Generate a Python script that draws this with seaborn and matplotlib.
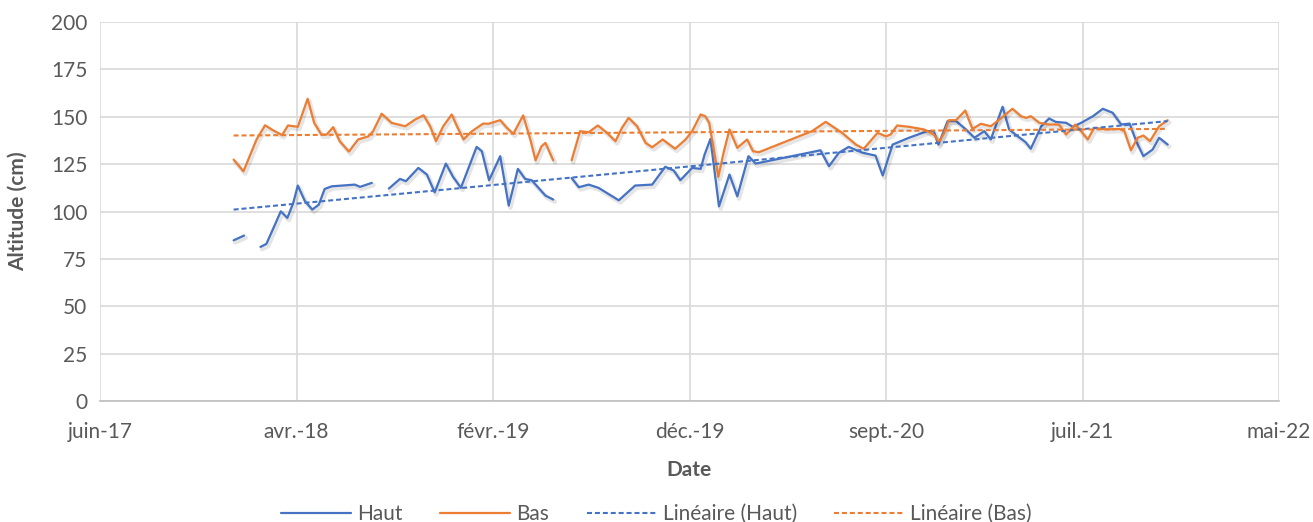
import numpy as np
import pandas as pd
import matplotlib
matplotlib.use("Agg")
import matplotlib.pyplot as plt
import matplotlib.patheffects as pe
from matplotlib.lines import Line2D
import seaborn as sns

# ---------------- data (dates as Excel serial numbers) ----------------
haut_dates = [
    [43104, 43120],
    [43145, 43154, 43166, 43176, 43186, 43195, 43202, 43213, 43224, 43234, 43243,
     43254, 43274, 43289, 43297, 43315],
    [43341, 43358, 43367, 43386, 43399, 43411, 43428, 43439, 43451, 43475, 43483,
     43494, 43511, 43524, 43538, 43549, 43559, 43580, 43592],
    [43620, 43631, 43646, 43661, 43692, 43717, 43743, 43763, 43776, 43786, 43804,
     43817, 43823, 43832, 43845, 43861, 43873, 43890, 43901, 44000, 44013, 44028,
     44043, 44064, 44084, 44095, 44110, 44135, 44163, 44173, 44180, 44194, 44207,
     44222, 44235, 44250, 44260, 44278, 44288, 44301, 44313, 44321, 44337, 44349,
     44359, 44375, 44385, 44398, 44416, 44431, 44446, 44459, 44472, 44482, 44493,
     44507, 44517, 44530],
]
haut_values = [
    [84.8, 87.3],
    [81.3, 82.9, 92.2, 100.1, 96.6, 104.5, 113.7, 105.4, 101.0, 103.6, 111.9,
     113.3, 113.8, 114.2, 113.0, 115.1],
    [112.1, 117.2, 116.0, 123.0, 119.5, 110.1, 125.3, 118.3, 112.5, 134.1, 131.8,
     116.5, 129.2, 103.1, 122.5, 117.2, 116.5, 108.4, 106.3],
    [117.7, 112.8, 114.2, 112.5, 105.9, 113.7, 114.2, 123.6, 121.6, 116.5, 123.0,
     122.5, 130.0, 138.3, 102.7, 119.5, 108.0, 129.2, 125.3, 132.3, 123.9, 131.0,
     134.1, 131.0, 129.5, 119.0, 135.3, 138.9, 142.4, 142.4, 135.3, 147.7, 147.7,
     143.3, 138.9, 142.4, 138.0, 155.3, 143.3, 139.7, 136.6, 133.1, 145.0, 149.1,
     147.3, 146.8, 144.7, 146.8, 150.3, 154.2, 152.1, 145.9, 146.4, 137.1, 129.2,
     132.7, 138.9, 135.3],
]

bas_dates = [
    [43104, 43119, 43139, 43152, 43164, 43178, 43187, 43202, 43217, 43227, 43238,
     43246, 43256, 43266, 43280, 43294, 43310, 43317, 43330, 43345, 43366, 43381,
     43394, 43404, 43413, 43424, 43437, 43445, 43455, 43468, 43485, 43493, 43511,
     43521, 43531, 43546, 43557, 43565, 43574, 43580, 43592],
    [43620, 43633, 43646, 43660, 43674, 43687, 43697, 43707, 43720, 43733, 43743,
     43759, 43778, 43794, 43804, 43817, 43824, 43830, 43837, 43844, 43852, 43861,
     43873, 43888, 43897, 43906, 43987, 44008, 44033, 44054, 44066, 44087, 44100,
     44107, 44117, 44135, 44158, 44173, 44181, 44189, 44196, 44207, 44221, 44232,
     44245, 44260, 44273, 44293, 44306, 44314, 44321, 44334, 44349, 44364, 44375,
     44389, 44400, 44408, 44418, 44436, 44456, 44464, 44474, 44484, 44493, 44503,
     44517, 44530],
]
bas_values = [
    [127.4, 121.2, 138.0, 145.5, 142.9, 140.3, 145.4, 144.7, 159.5, 146.8, 140.6,
     140.6, 144.5, 137.1, 131.6, 138.0, 139.7, 142.4, 151.6, 146.8, 145.0, 148.5,
     150.8, 145.0, 137.1, 145.0, 151.2, 145.0, 138.0, 142.4, 146.4, 146.3, 148.2,
     144.2, 141.0, 150.7, 138.0, 127.0, 134.4, 136.2, 127.0],
    [127.0, 142.4, 141.8, 145.4, 141.5, 137.1, 144.2, 149.4, 145.0, 136.2, 133.9,
     138.0, 133.1, 138.0, 142.4, 151.2, 150.3, 146.8, 132.7, 118.3, 131.0, 143.3,
     133.6, 138.0, 131.8, 131.3, 142.4, 147.3, 141.5, 135.3, 133.1, 141.5, 139.7,
     140.6, 145.4, 144.7, 143.3, 140.6, 136.6, 141.5, 148.2, 148.2, 153.3, 143.6,
     146.3, 145.0, 148.5, 154.2, 150.3, 149.4, 150.3, 146.8, 145.9, 145.9, 140.6,
     145.9, 141.5, 138.0, 144.2, 143.3, 143.6, 142.4, 132.3, 138.9, 140.1, 137.1,
     145.0, 148.2],
]

# linear trend lines (end points)
trend_dates = [43104, 44530]
trend_haut = [101.0, 147.7]
trend_bas = [140.1, 143.6]

# axis
x_tick_dates = ["2017-06-14", "2018-04-10", "2019-02-04", "2019-12-01",
                "2020-09-26", "2021-07-23", "2022-05-19"]
x_tick_labels = ["juin-17", "avr.-18", "févr.-19", "déc.-19",
                 "sept.-20", "juil.-21", "mai-22"]
y_ticks = [0, 25, 50, 75, 100, 125, 150, 175, 200]

BLUE = "#4472C4"
ORANGE = "#ED7D31"
TXT = "#595959"
FS = 15


def to_dt(serials):
    return pd.to_datetime(np.asarray(serials, dtype=float), unit="D", origin="1899-12-30")


rows = []
for name, dl, vl in (("Haut", haut_dates, haut_values), ("Bas", bas_dates, bas_values)):
    for k, (d, v) in enumerate(zip(dl, vl)):
        for dd, vv in zip(to_dt(d), v):
            rows.append({"date": dd, "value": vv, "series": name, "seg": f"{name}{k}"})
df = pd.DataFrame(rows)

trend = pd.DataFrame({
    "date": list(to_dt(trend_dates)) * 2,
    "value": trend_haut + trend_bas,
    "series": ["Linéaire (Haut)"] * 2 + ["Linéaire (Bas)"] * 2,
})

sns.set_theme(style="white")
plt.rcParams["font.family"] = ["Lato", "DejaVu Sans"]

fig = plt.figure(figsize=(13.13, 5.22), dpi=100)
ax = fig.add_axes([100 / 1313, 1 - 401 / 522, (1279 - 100) / 1313, (401 - 22) / 522])

shadow = [pe.SimpleLineShadow(offset=(1.2, -1.6), shadow_color="#000000", alpha=0.10, linewidth=3.2),
          pe.Normal()]

sns.lineplot(data=df, x="date", y="value", hue="series", units="seg", estimator=None,
             palette={"Haut": BLUE, "Bas": ORANGE}, hue_order=["Haut", "Bas"],
             linewidth=1.6, legend=False, ax=ax, path_effects=shadow,
             solid_joinstyle="round", solid_capstyle="round")
sns.lineplot(data=trend, x="date", y="value", hue="series", estimator=None,
             palette={"Linéaire (Haut)": BLUE, "Linéaire (Bas)": ORANGE},
             linewidth=1.5, legend=False, ax=ax, linestyle=(0, (2.4, 1.4)))

ax.set_xlim(pd.Timestamp(x_tick_dates[0]), pd.Timestamp(x_tick_dates[-1]))
ax.set_ylim(0, 200)
ax.set_xticks(pd.to_datetime(x_tick_dates))
ax.set_xticklabels(x_tick_labels)
ax.set_yticks(y_ticks)
ax.set_yticklabels([str(t) for t in y_ticks])
ax.grid(True, color="#D9D9D9", linewidth=1.2)
ax.set_axisbelow(True)
for s in ("top", "right", "left"):
    ax.spines[s].set_visible(False)
ax.spines["bottom"].set_color("#BFBFBF")
ax.spines["bottom"].set_linewidth(1.2)
ax.tick_params(axis="both", length=0, labelsize=FS, colors=TXT)
ax.tick_params(axis="y", pad=9)
ax.tick_params(axis="x", pad=15)

ax.set_xlabel("Date", fontsize=FS, fontweight="bold", color=TXT)
ax.set_ylabel("Altitude (cm)", fontsize=FS, fontweight="bold", color=TXT)
ax.xaxis.set_label_coords(0.5, (401 - 460) / 379)
ax.yaxis.set_label_coords((28 - 100) / 1179, 0.5)

handles = [
    Line2D([], [], color=BLUE, lw=1.6),
    Line2D([], [], color=ORANGE, lw=1.6),
    Line2D([], [], color=BLUE, lw=1.5, linestyle=(0, (2.4, 1.4))),
    Line2D([], [], color=ORANGE, lw=1.5, linestyle=(0, (2.4, 1.4))),
]
labels = ["Haut", "Bas", "Linéaire (Haut)", "Linéaire (Bas)"]
leg = fig.legend(handles, labels, loc="lower center", bbox_to_anchor=(0.5, -0.04), ncol=4,
                 frameon=False, fontsize=FS, handlelength=3.35, columnspacing=1.8,
                 handletextpad=0.3)
for t in leg.get_texts():
    t.set_color(TXT)

fig.savefig("out.png", dpi=100)
